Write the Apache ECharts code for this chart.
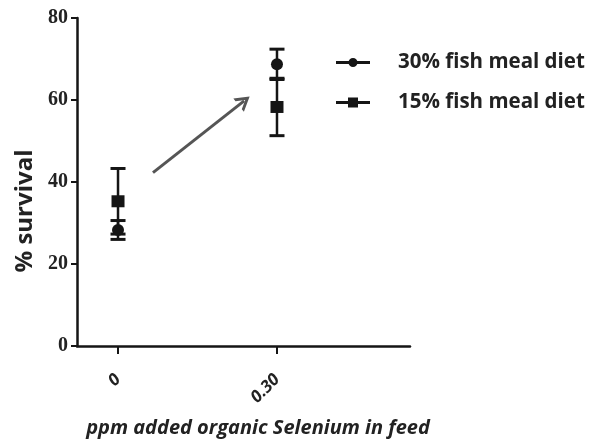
<!DOCTYPE html>
<html>
<head>
<meta charset="utf-8">
<script src="https://cdn.jsdelivr.net/npm/echarts@6/dist/echarts.min.js"></script>
<style>
  html, body { margin: 0; padding: 0; background: #fff; }
  #chart { width: 603px; height: 441px; }
</style>
</head>
<body>
<div id="chart"></div>
<script>
// Selenium dose (ppm) on the x axis
const doses = [0, 0.30];
const doseLabels = ['0', '0.30'];

// Mean % survival and error (±) per diet
const meal30Mean = [28.3, 68.7];
const meal30Err = [2.3, 3.7];
const meal15Mean = [35.3, 58.3];
const meal15Err = [8.0, 7.0];

// Y axis ticks
const yTicks = [0, 20, 40, 60, 80];

// Trend arrow endpoints in data space [dose, survival]
const arrowFrom = [0.066, 42.3];
const arrowTo = [0.238, 59.8];

const ink = '#151515';

function errorRows(means, errs) {
  return doses.map((d, i) => [d, means[i] - errs[i], means[i] + errs[i]]);
}
function pointRows(means) {
  return doses.map((d, i) => [d, means[i]]);
}

function renderErrorBar(params, api) {
  const x = api.value(0);
  const top = api.coord([x, api.value(2)]);
  const bot = api.coord([x, api.value(1)]);
  const hw = 7.5;
  const stem = { stroke: ink, lineWidth: 2.5 };
  const cap = { stroke: ink, lineWidth: 3 };
  return {
    type: 'group',
    children: [
      { type: 'line', shape: { x1: top[0], y1: top[1], x2: bot[0], y2: bot[1] }, style: stem },
      { type: 'line', shape: { x1: top[0] - hw, y1: top[1], x2: top[0] + hw, y2: top[1] }, style: cap },
      { type: 'line', shape: { x1: bot[0] - hw, y1: bot[1], x2: bot[0] + hw, y2: bot[1] }, style: cap }
    ]
  };
}

const iconCircle = 'path://M0 3.5H34V6.5H0Z M12.5 5A4.5 4.5 0 1 1 21.5 5A4.5 4.5 0 1 1 12.5 5Z';
const iconSquare = 'path://M0 3.5H12V0H22V3.5H34V6.5H22V10H12V6.5H0Z';

const chart = echarts.init(document.getElementById('chart'), null, { renderer: 'canvas' });

const option = {
  backgroundColor: '#ffffff',
  animation: false,
  grid: { left: 77, right: 193, top: 18, bottom: 95, containLabel: false, outerBoundsMode: 'none' },
  legend: {
    orient: 'vertical',
    left: 336,
    top: 52,
    padding: 0,
    itemWidth: 34,
    itemHeight: 10,
    itemGap: 19,
    selectedMode: false,
    textStyle: {
      fontFamily: 'Open Sans',
      fontWeight: 'bold',
      fontSize: 20.5,
      lineHeight: 20,
      color: '#222',
      padding: [0, 0, 0, 23]
    },
    data: [
      { name: '30% fish meal diet', icon: iconCircle, itemStyle: { color: ink } },
      { name: '15% fish meal diet', icon: iconSquare, itemStyle: { color: ink } }
    ]
  },
  xAxis: {
    type: 'value',
    min: -0.0774,
    max: 0.551,
    splitLine: { show: false },
    axisLine: { show: true, onZero: false, lineStyle: { color: ink, width: 2.5 } },
    axisTick: { show: true, customValues: doses, length: 8, lineStyle: { color: ink, width: 2 } },
    axisLabel: {
      customValues: doses,
      rotate: 45,
      margin: 31,
      fontFamily: 'Open Sans',
      fontStyle: 'italic',
      fontWeight: 'bold',
      fontSize: 17,
      color: '#222',
      formatter: function (v) {
        const i = doses.findIndex(d => Math.abs(d - v) < 1e-9);
        return i >= 0 ? doseLabels[i] : '';
      }
    },
    name: 'ppm added organic Selenium in feed',
    nameLocation: 'middle',
    nameGap: 72,
    nameTextStyle: {
      fontFamily: 'Open Sans',
      fontStyle: 'italic',
      fontWeight: 'bold',
      fontSize: 20,
      color: '#222',
      padding: [0, 0, 0, 29]
    }
  },
  yAxis: {
    type: 'value',
    min: 0,
    max: 80,
    interval: 20,
    splitLine: { show: false },
    axisLine: { show: true, onZero: false, lineStyle: { color: ink, width: 2.5 } },
    axisTick: { show: true, length: 6, lineStyle: { color: ink, width: 2 } },
    axisLabel: {
      margin: 9,
      fontFamily: 'Liberation Serif',
      fontWeight: 'bold',
      fontSize: 20,
      color: '#222',
      formatter: function (v) { return yTicks.includes(v) ? String(v) : ''; }
    },
    name: '% survival',
    nameLocation: 'middle',
    nameGap: 40,
    nameRotate: 90,
    nameTextStyle: {
      fontFamily: 'Open Sans',
      fontWeight: 'bold',
      fontSize: 24,
      color: '#222',
      padding: [0, 58, 0, 0]
    }
  },
  series: [
    {
      name: '30% fish meal diet',
      type: 'custom',
      renderItem: renderErrorBar,
      data: errorRows(meal30Mean, meal30Err),
      encode: { x: 0, y: [1, 2] },
      z: 2,
      silent: true
    },
    {
      name: '15% fish meal diet',
      type: 'custom',
      renderItem: renderErrorBar,
      data: errorRows(meal15Mean, meal15Err),
      encode: { x: 0, y: [1, 2] },
      z: 2,
      silent: true
    },
    {
      name: '30% fish meal diet',
      type: 'scatter',
      symbol: 'circle',
      symbolSize: 12,
      itemStyle: { color: ink, opacity: 1 },
      data: pointRows(meal30Mean),
      z: 3,
      silent: true,
      markLine: {
        silent: true,
        symbol: ['none', 'path://M0 10 L5 0 L10 10 L8 10 L5 4 L2 10 Z'],
        symbolSize: [17, 14],
        label: { show: false },
        lineStyle: { color: '#555', width: 3, type: 'solid' },
        data: [[{ coord: arrowFrom }, { coord: arrowTo }]]
      }
    },
    {
      name: '15% fish meal diet',
      type: 'scatter',
      symbol: 'rect',
      symbolSize: [13, 12],
      itemStyle: { color: ink, opacity: 1 },
      data: pointRows(meal15Mean),
      z: 3,
      silent: true
    }
  ]
};

chart.setOption(option);
</script>
</body>
</html>
